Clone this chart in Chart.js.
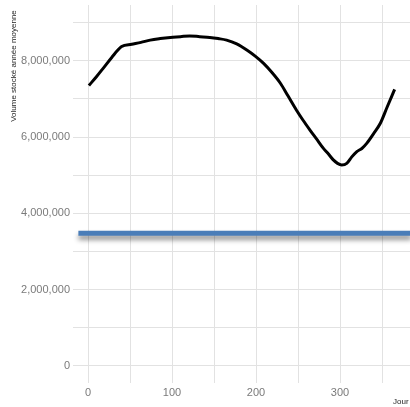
<!DOCTYPE html>
<html>
<head>
<meta charset="utf-8">
<script src="https://cdn.jsdelivr.net/npm/chart.js@4/dist/chart.umd.min.js"></script>
<style>
  html, body { margin: 0; padding: 0; background: #fff; }
  #wrap { width: 410px; height: 407px; }
</style>
</head>
<body>
<div id="wrap"><canvas id="stock"></canvas></div>
<script>
// jour de l'année / volume stocké moyen
var days = [1, 10, 18, 28, 40, 52, 63, 74, 86, 98, 110, 121, 133, 145, 155, 165, 177, 189, 199, 209, 219, 229, 238, 248, 256, 264, 272, 280, 286, 292, 297, 302, 308, 314, 320, 326, 332, 340, 348, 356, 365];
var volumes = [7350000, 7580000, 7800000, 8080000, 8370000, 8430000, 8480000, 8540000, 8580000, 8610000, 8630000, 8650000, 8630000, 8610000, 8580000, 8540000, 8440000, 8280000, 8120000, 7930000, 7690000, 7410000, 7080000, 6710000, 6440000, 6190000, 5950000, 5710000, 5560000, 5400000, 5310000, 5270000, 5310000, 5480000, 5620000, 5700000, 5840000, 6090000, 6360000, 6780000, 7250000];
// niveau de référence
var refDays = [-11.5, 385];
var refLevel = 3480000;

var xTicks = [0, 50, 100, 150, 200, 250, 300, 350];
var yTicks = [0, 1000000, 2000000, 3000000, 4000000, 5000000, 6000000, 7000000, 8000000, 9000000];

var curve = days.map(function (d, i) { return { x: d, y: volumes[i] }; });
var ref = refDays.map(function (d) { return { x: d, y: refLevel }; });

var shadowPlugin = {
  id: 'refShadow',
  beforeDatasetDraw: function (chart, args) {
    if (args.index !== 1) return;
    var c = chart.ctx;
    c.save();
    c.shadowColor = 'rgba(0,0,0,0.45)';
    c.shadowBlur = 5;
    c.shadowOffsetY = 4;
  },
  afterDatasetDraw: function (chart, args) {
    if (args.index !== 1) return;
    chart.ctx.restore();
  }
};

var labelsPlugin = {
  id: 'axisLabels',
  afterDraw: function (chart) {
    var c = chart.ctx;
    c.save();
    c.fillStyle = '#222';
    c.font = '8px "Liberation Sans", Arial, sans-serif';
    c.textBaseline = 'middle';
    c.textAlign = 'center';
    c.translate(14, 66);
    c.rotate(-Math.PI / 2);
    c.fillText('Volume stocké année moyenne', 0, 0);
    c.restore();
    c.save();
    c.fillStyle = '#222';
    c.font = '8px "Liberation Sans", Arial, sans-serif';
    c.textAlign = 'left';
    c.textBaseline = 'alphabetic';
    c.fillText('Jour', 393, 404);
    c.restore();
  }
};

var fmt = function (v) { return v.toLocaleString('en-US'); };

new Chart(document.getElementById('stock').getContext('2d'), {
  type: 'line',
  data: {
    datasets: [
      {
        label: 'volume',
        data: curve,
        borderColor: '#000',
        borderWidth: 3,
        pointRadius: 0,
        tension: 0.4,
        cubicInterpolationMode: 'monotone',
        fill: false
      },
      {
        label: 'reference',
        data: ref,
        borderColor: '#4a7db8',
        borderWidth: 5,
        borderCapStyle: 'butt',
        pointRadius: 0,
        fill: false
      }
    ]
  },
  options: {
    responsive: true,
    maintainAspectRatio: false,
    animation: false,
    layout: { padding: { top: 5, right: 0, left: 0, bottom: 0 } },
    plugins: { legend: { display: false }, tooltip: { enabled: false } },
    scales: {
      x: {
        type: 'linear',
        min: -17.9,
        max: 383.3,
        afterBuildTicks: function (s) { s.ticks = xTicks.map(function (v) { return { value: v }; }); },
        afterFit: function (s) { s.height = 24; s.paddingLeft = 0; s.paddingRight = 0; },
        ticks: {
          color: '#7a7a7a',
          font: { family: '"Liberation Sans", Arial, sans-serif', size: 11 },
          padding: 3,
          maxRotation: 0,
          autoSkip: false,
          callback: function (v) { return v % 100 === 0 ? String(v) : ''; }
        },
        grid: { color: '#e2e2e2', lineWidth: 1, drawTicks: false },
        border: { display: false }
      },
      y: {
        min: -446000,
        max: 9460000,
        afterBuildTicks: function (s) { s.ticks = yTicks.map(function (v) { return { value: v }; }); },
        afterFit: function (s) { s.width = 73; s.paddingTop = 0; s.paddingBottom = 0; },
        ticks: {
          color: '#7a7a7a',
          font: { family: '"Liberation Sans", Arial, sans-serif', size: 11 },
          padding: 3,
          autoSkip: false,
          callback: function (v) { return v % 2000000 === 0 ? fmt(v) : ''; }
        },
        grid: { color: '#e2e2e2', lineWidth: 1, drawTicks: false },
        border: { display: false }
      }
    }
  },
  plugins: [shadowPlugin, labelsPlugin]
});
</script>
</body>
</html>
